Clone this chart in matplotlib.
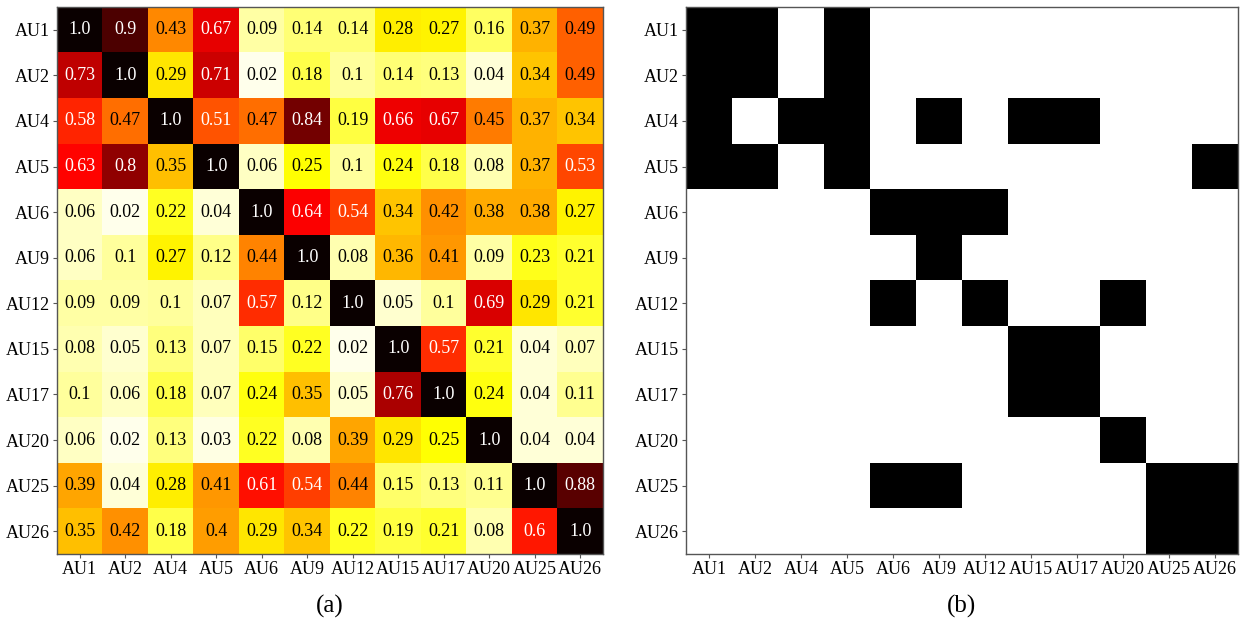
import numpy as np
import matplotlib
matplotlib.use('Agg')
import matplotlib.pyplot as plt

plt.rcParams['font.family'] = ['Liberation Serif', 'DejaVu Serif']

# AU labels
aus = ['AU1', 'AU2', 'AU4', 'AU5', 'AU6', 'AU9', 'AU12', 'AU15', 'AU17', 'AU20', 'AU25', 'AU26']

# co-occurrence matrix, row by row
au1 = [1.0, 0.9, 0.43, 0.67, 0.09, 0.14, 0.14, 0.28, 0.27, 0.16, 0.37, 0.49]
au2 = [0.73, 1.0, 0.29, 0.71, 0.02, 0.18, 0.1, 0.14, 0.13, 0.04, 0.34, 0.49]
au4 = [0.58, 0.47, 1.0, 0.51, 0.47, 0.84, 0.19, 0.66, 0.67, 0.45, 0.37, 0.34]
au5 = [0.63, 0.8, 0.35, 1.0, 0.06, 0.25, 0.1, 0.24, 0.18, 0.08, 0.37, 0.53]
au6 = [0.06, 0.02, 0.22, 0.04, 1.0, 0.64, 0.54, 0.34, 0.42, 0.38, 0.38, 0.27]
au9 = [0.06, 0.1, 0.27, 0.12, 0.44, 1.0, 0.08, 0.36, 0.41, 0.09, 0.23, 0.21]
au12 = [0.09, 0.09, 0.1, 0.07, 0.57, 0.12, 1.0, 0.05, 0.1, 0.69, 0.29, 0.21]
au15 = [0.08, 0.05, 0.13, 0.07, 0.15, 0.22, 0.02, 1.0, 0.57, 0.21, 0.04, 0.07]
au17 = [0.1, 0.06, 0.18, 0.07, 0.24, 0.35, 0.05, 0.76, 1.0, 0.24, 0.04, 0.11]
au20 = [0.06, 0.02, 0.13, 0.03, 0.22, 0.08, 0.39, 0.29, 0.25, 1.0, 0.04, 0.04]
au25 = [0.39, 0.04, 0.28, 0.41, 0.61, 0.54, 0.44, 0.15, 0.13, 0.11, 1.0, 0.88]
au26 = [0.35, 0.42, 0.18, 0.4, 0.29, 0.34, 0.22, 0.19, 0.21, 0.08, 0.6, 1.0]

threshold = 0.5

mat = np.array([au1, au2, au4, au5, au6, au9, au12, au15, au17, au20, au25, au26])
adj = (mat > threshold).astype(float)

fig = plt.figure(figsize=(12.41, 6.18), dpi=100)
ax1 = fig.add_axes([57/1241, 64/618, 546/1241, 547/618])
ax2 = fig.add_axes([686/1241, 64/618, 552/1241, 547/618])

# (a) heatmap
ax1.imshow(mat, cmap='hot_r', vmin=0, vmax=1, aspect='auto', interpolation='nearest')
for i in range(len(aus)):
    for j in range(len(aus)):
        v = mat[i, j]
        c = 'white' if v > threshold else 'black'
        ax1.text(j, i, str(v), ha='center', va='center', color=c, fontsize=13)

# (b) binary graph
ax2.imshow(adj, cmap='Greys', vmin=0, vmax=1, aspect='auto', interpolation='nearest')

for ax, cap in [(ax1, '(a)'), (ax2, '(b)')]:
    ax.set_xticks(range(len(aus)))
    ax.set_yticks(range(len(aus)))
    ax.set_xticklabels(aus, fontsize=13)
    ax.set_yticklabels(aus, fontsize=13)
    ax.tick_params(length=3, width=0.8, color='#555555', pad=2)
    for s in ax.spines.values():
        s.set_color('#555555')
        s.set_linewidth(1.0)
    ax.set_xlabel(cap, fontsize=18, labelpad=12)

fig.savefig('out.png', dpi=100)
